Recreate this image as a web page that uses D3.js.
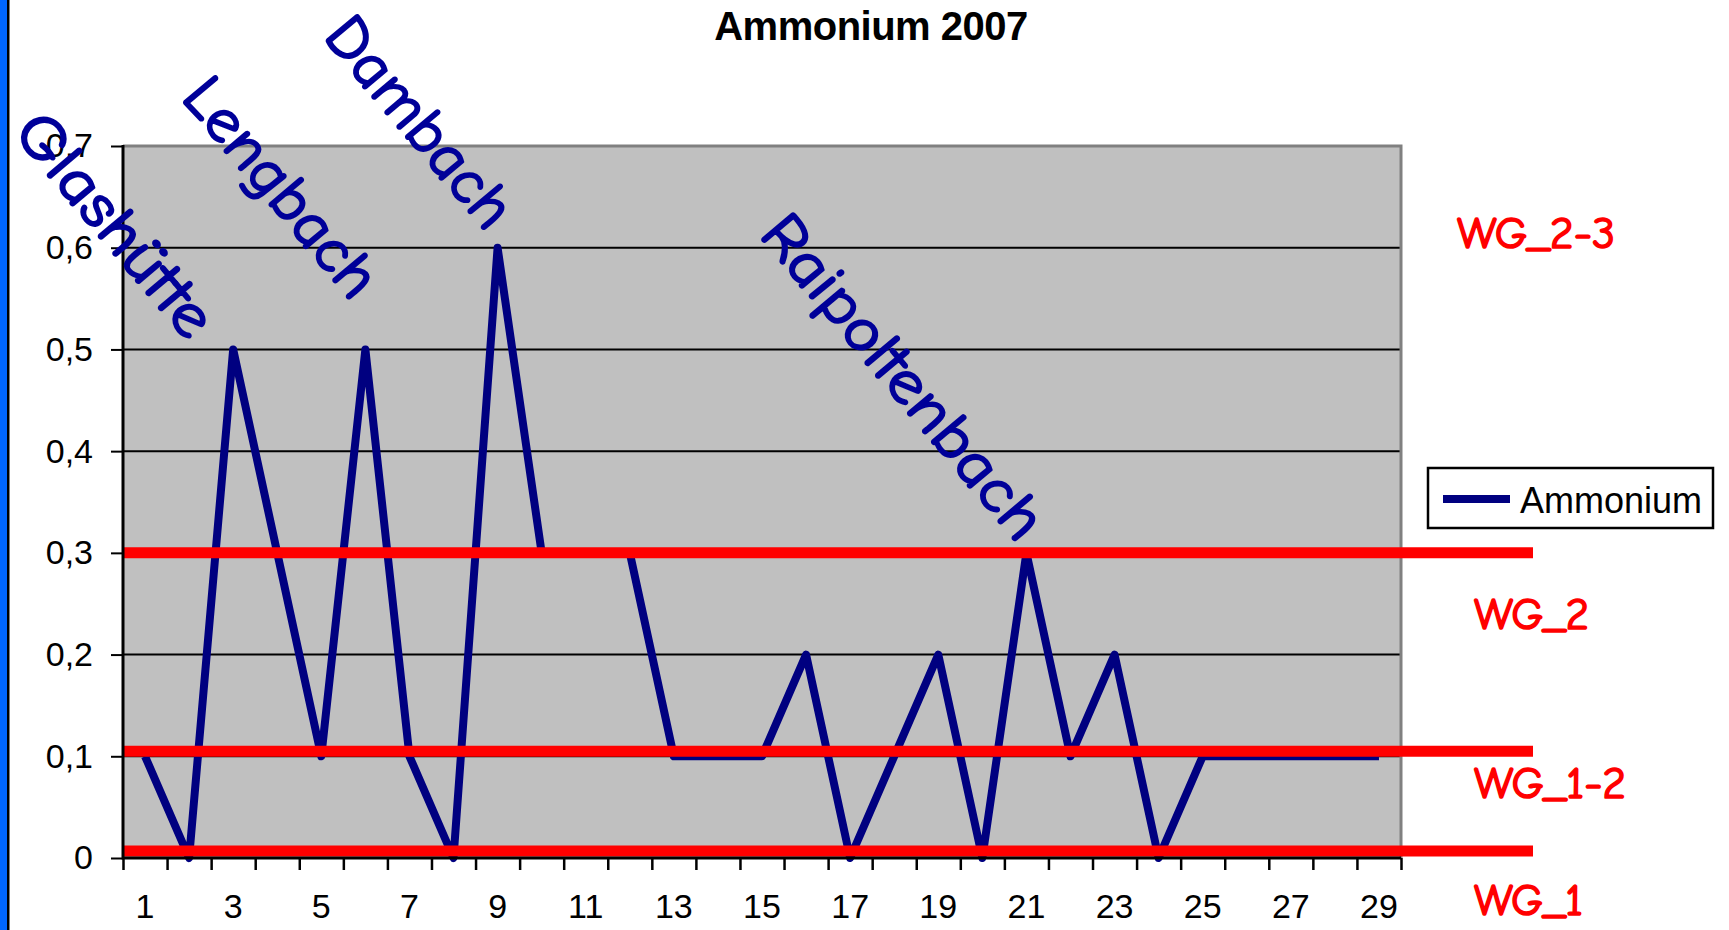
<!DOCTYPE html>
<html>
<head>
<meta charset="utf-8">
<script src="https://cdn.jsdelivr.net/npm/d3@7"></script>
<style>
body { margin: 0; background: #fff; }
</style>
</head>
<body>
<svg id="chart" width="1729" height="930"></svg>
<script>
// data
const categories = d3.range(1, 30);
const ammonium = [0.1, 0, 0.5, 0.3, 0.1, 0.5, 0.1, 0, 0.6, 0.3, 0.3, 0.3, 0.1, 0.1, 0.1,
                  0.2, 0, 0.1, 0.2, 0, 0.3, 0.1, 0.2, 0, 0.1, 0.1, 0.1, 0.1, 0.1];
const yTicks = [0, 0.1, 0.2, 0.3, 0.4, 0.5, 0.6, 0.7];
const xTickLabels = d3.range(1, 30, 2);
const limitValues = [0.3, 0.105, 0.007];
const limitNames = ["WG_2-3", "WG_2", "WG_1-2", "WG_1"];
const siteNames = ["Glashütte", "Lengbach", "Dambach", "Raipoltenbach"];

const svg = d3.select("#chart");
const plot = { left: 123, right: 1401, top: 146, bottom: 858 };
const comic = "'Comic Sans MS', 'Comic Neue', Lato, sans-serif";
const arial = "Liberation Sans, Arial, sans-serif";

// blue strip on the left
svg.append("rect").attr("x", 0).attr("y", 0).attr("width", 7).attr("height", 930).attr("fill", "#0066ff");
svg.append("rect").attr("x", 7).attr("y", 0).attr("width", 2.5).attr("height", 930).attr("fill", "#000");

const x = d3.scaleBand().domain(categories).range([plot.left, plot.right]);
const xb = d3.scaleLinear().domain([0.5, 29.5]).range([plot.left, plot.right]);
const y = d3.scaleLinear().domain([0, 0.7]).range([plot.bottom, plot.top]);

// plot area
svg.append("rect")
  .attr("x", plot.left).attr("y", plot.top)
  .attr("width", plot.right - plot.left).attr("height", plot.bottom - plot.top)
  .attr("fill", "#c0c0c0");

// gridlines
svg.append("g").selectAll("line")
  .data(yTicks.filter(v => v > 0 && v < 0.7))
  .join("line")
  .attr("x1", plot.left).attr("x2", plot.right)
  .attr("y1", d => y(d)).attr("y2", d => y(d))
  .attr("stroke", "#000").attr("stroke-width", 2);

// top + right border
svg.append("path")
  .attr("d", `M${plot.left},${plot.top}H${plot.right}V${plot.bottom}`)
  .attr("fill", "none").attr("stroke", "#808080").attr("stroke-width", 3);

// data line
const line = d3.line()
  .x((d, i) => x(categories[i]) + x.bandwidth() / 2)
  .y(d => y(d));

svg.append("path")
  .datum(ammonium)
  .attr("d", line)
  .attr("fill", "none")
  .attr("stroke", "#000080")
  .attr("stroke-width", 8)
  .attr("stroke-linejoin", "round");

// red limit lines
svg.append("g").selectAll("line")
  .data(limitValues)
  .join("line")
  .attr("x1", plot.left).attr("x2", 1533)
  .attr("y1", d => y(d)).attr("y2", d => y(d))
  .attr("stroke", "#ff0000").attr("stroke-width", 11);

// axes
const yAxis = svg.append("g")
  .attr("transform", `translate(${plot.left},0)`)
  .call(d3.axisLeft(y).tickValues(yTicks).tickSize(12).tickPadding(18)
    .tickFormat(d => d3.format(".1~f")(d).replace(".", ",")));
yAxis.select(".domain").remove();
yAxis.selectAll(".tick line").attr("stroke", "#000").attr("stroke-width", 2);
yAxis.selectAll("text")
  .attr("font-family", arial)
  .attr("font-size", 34).attr("fill", "#000");

const xTicks = svg.append("g")
  .attr("transform", `translate(0,${plot.bottom})`)
  .call(d3.axisBottom(xb).tickValues(d3.range(0.5, 30, 1)).tickSize(12).tickFormat(""));
xTicks.select(".domain").remove();
xTicks.selectAll(".tick line").attr("stroke", "#000").attr("stroke-width", 2.5);

const xLabels = svg.append("g")
  .attr("transform", `translate(0,${plot.bottom})`)
  .call(d3.axisBottom(x).tickValues(xTickLabels).tickSize(0).tickPadding(36));
xLabels.select(".domain").remove();
xLabels.selectAll("text")
  .attr("font-family", arial)
  .attr("font-size", 34).attr("fill", "#000");

svg.append("path")
  .attr("d", `M${plot.left},${plot.top - 1}V${plot.bottom}H${plot.right}`)
  .attr("fill", "none").attr("stroke", "#000").attr("stroke-width", 3);

// title
svg.append("text")
  .attr("x", 871).attr("y", 40)
  .attr("text-anchor", "middle")
  .attr("font-family", arial)
  .attr("font-weight", "bold").attr("font-size", 40)
  .attr("letter-spacing", -0.5)
  .text("Ammonium 2007");

// legend
const legend = svg.append("g");
legend.append("rect")
  .attr("x", 1428).attr("y", 468).attr("width", 285).attr("height", 60)
  .attr("fill", "#fff").attr("stroke", "#000").attr("stroke-width", 2.5);
legend.append("line")
  .attr("x1", 1443).attr("x2", 1510).attr("y1", 499).attr("y2", 499)
  .attr("stroke", "#000080").attr("stroke-width", 8);
legend.append("text")
  .attr("x", 1520).attr("y", 513)
  .attr("font-family", arial)
  .attr("font-size", 36)
  .text("Ammonium");

// limit labels
const limitLabelPos = [[1457, 248, 158], [1474, 629, 115], [1474, 798, 152], [1474, 915, 109]];
svg.append("g").selectAll("text")
  .data(limitNames)
  .join("text")
  .attr("x", (d, i) => limitLabelPos[i][0])
  .attr("y", (d, i) => limitLabelPos[i][1])
  .attr("textLength", (d, i) => limitLabelPos[i][2])
  .attr("lengthAdjust", "spacingAndGlyphs")
  .attr("font-family", comic)
  .attr("font-size", 44)
  .attr("fill", "#ff0000")
  .attr("stroke", "#ff0000").attr("stroke-width", 1.6)
  .attr("stroke-linejoin", "round")
  .text(d => d);

// site annotations (rotated)
const sitePos = [[12, 133, 273], [180, 98, 267], [322, 37, 256], [758, 235, 404]];
svg.append("g").selectAll("text")
  .data(siteNames)
  .join("text")
  .attr("transform", (d, i) => `translate(${sitePos[i][0]},${sitePos[i][1]}) rotate(50)`)
  .attr("textLength", (d, i) => sitePos[i][2])
  .attr("lengthAdjust", "spacingAndGlyphs")
  .attr("font-family", comic)
  .attr("font-size", 62)
  .attr("fill", "#000099")
  .attr("stroke", "#000099").attr("stroke-width", 2)
  .attr("stroke-linejoin", "round")
  .text(d => d);
</script>
</body>
</html>
